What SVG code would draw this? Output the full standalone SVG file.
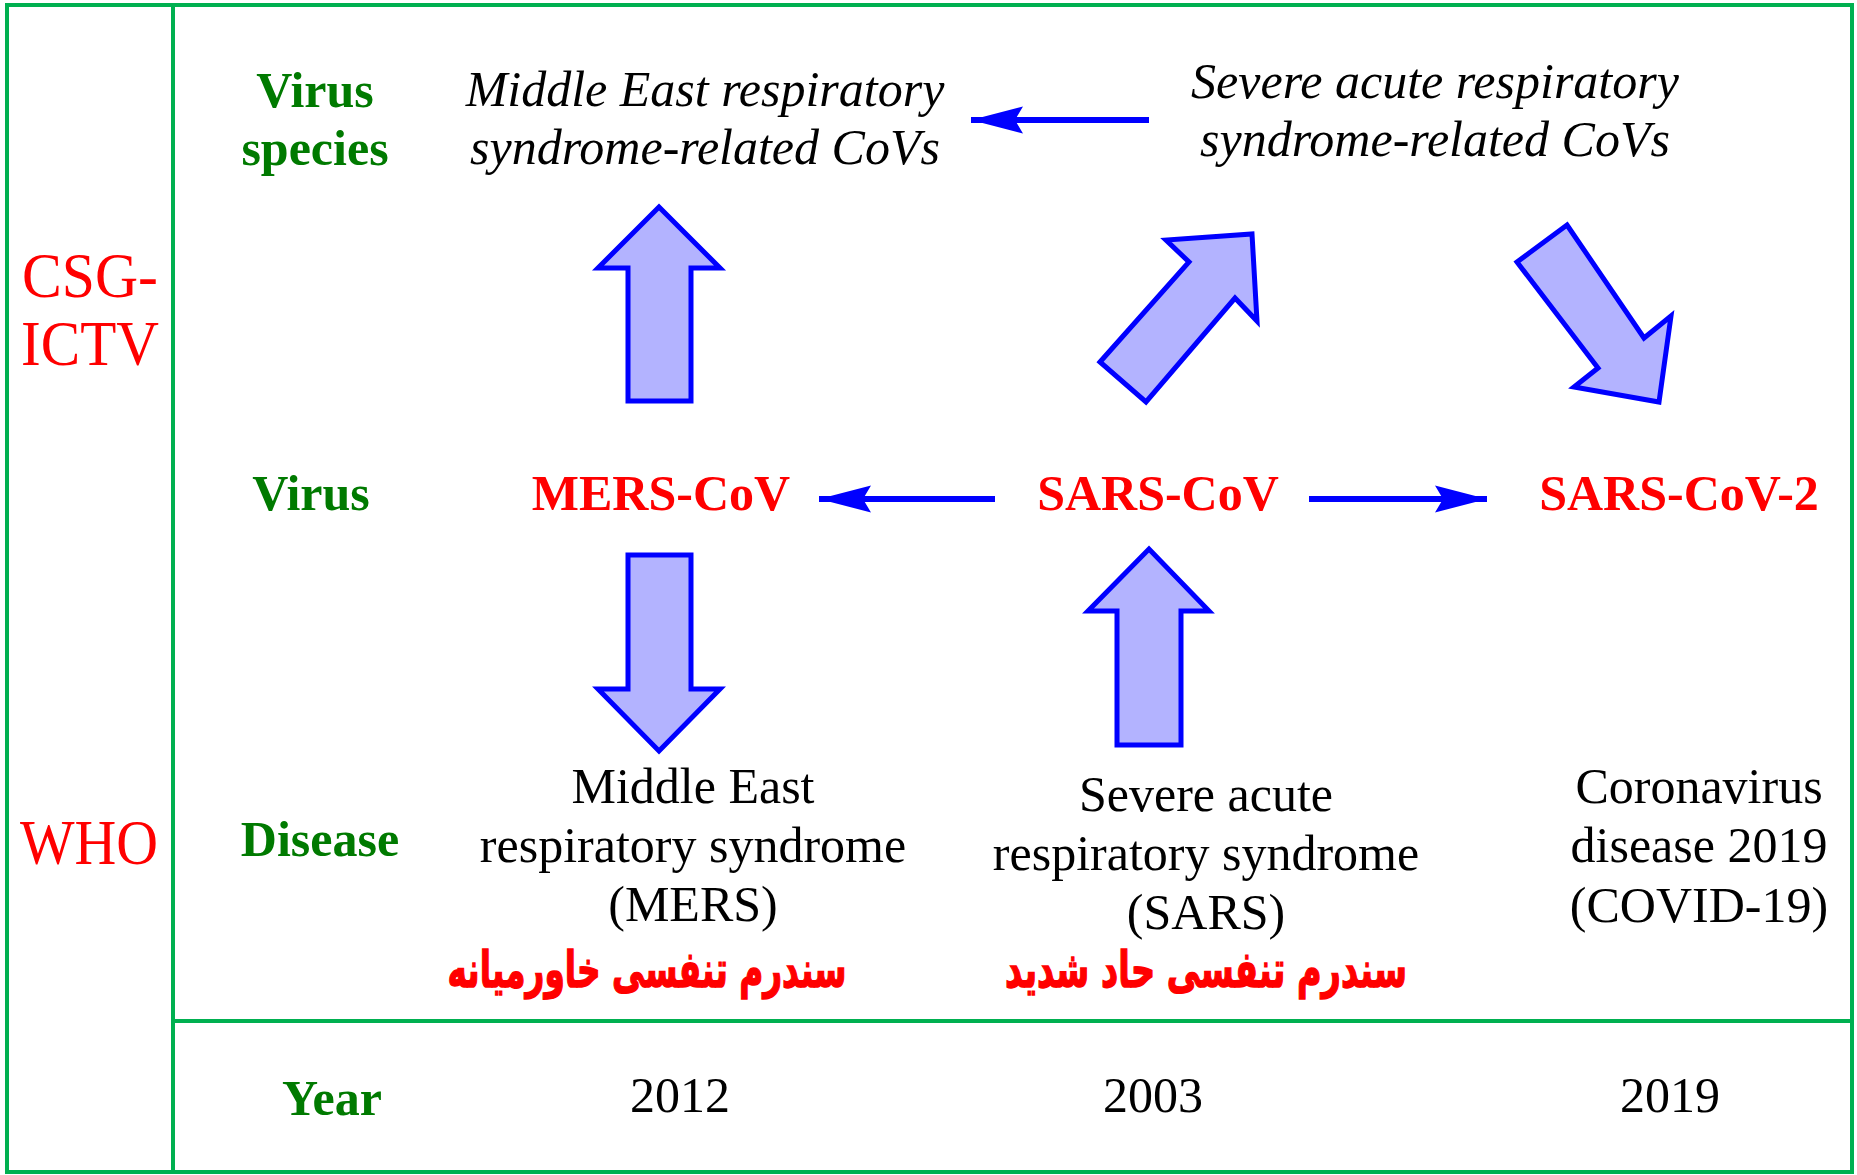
<svg xmlns="http://www.w3.org/2000/svg" width="1857" height="1175" viewBox="0 0 1857 1175">
  <style>
    text { font-family: "Liberation Serif", "Times New Roman", serif; text-anchor: middle; }
    .lab { fill: #007a00; font-weight: bold; font-size: 50px; }
    .org { fill: #ff0000; font-size: 64px; }
    .vir { fill: #ff0000; font-weight: bold; font-size: 50px; }
    .sp { fill: #000; font-style: italic; font-size: 50px; }
    .dis { fill: #000; font-size: 50px; }
    .fa { fill: #ff0000; stroke: #ff0000; stroke-width: 1.5; font-family: "DejaVu Sans", "Noto Sans", sans-serif; font-weight: bold; font-size: 50px; }
    .grid { stroke: #00b050; stroke-width: 4; fill: none; }
    .block { fill: #b3b3ff; stroke: #0000ff; stroke-width: 5; stroke-linejoin: miter; }
    .line { stroke: #0000ff; stroke-width: 6; fill: none; }
  </style>
  <defs>
    <marker id="head" markerUnits="userSpaceOnUse" markerWidth="60" markerHeight="32" viewBox="-54 -16 60 32" refX="0" refY="0" orient="auto">
      <path d="M0,0 L-52,-13.5 L-44,0 L-52,13.5 Z" fill="#0000ff"/>
    </marker>
  </defs>

  <rect width="1857" height="1175" fill="#ffffff"/>

  <!-- table frame -->
  <g id="frame">
    <rect class="grid" x="7" y="5" width="1845" height="1167"/>
    <line class="grid" x1="173" y1="5" x2="173" y2="1172"/>
    <line class="grid" x1="173" y1="1021" x2="1852" y2="1021"/>
  </g>

  <!-- row and column headings -->
  <g id="org-csg">
    <text class="org" x="90" y="297" textLength="136" lengthAdjust="spacingAndGlyphs">CSG-</text>
    <text class="org" x="90" y="365" textLength="138" lengthAdjust="spacingAndGlyphs">ICTV</text>
  </g>
  <g id="org-who">
    <text class="org" x="89" y="864" textLength="138" lengthAdjust="spacingAndGlyphs">WHO</text>
  </g>
  <g id="label-species">
    <text class="lab" x="315" y="107">Virus</text>
    <text class="lab" x="315" y="165">species</text>
  </g>
  <g id="label-virus"><text class="lab" x="311" y="510">Virus</text></g>
  <g id="label-disease"><text class="lab" x="320" y="856">Disease</text></g>
  <g id="label-year"><text class="lab" x="332" y="1115">Year</text></g>

  <!-- species -->
  <g id="species-mers">
    <text class="sp" x="705" y="106">Middle East respiratory</text>
    <text class="sp" x="705" y="164">syndrome-related CoVs</text>
  </g>
  <g id="species-sars">
    <text class="sp" x="1435" y="98">Severe acute respiratory</text>
    <text class="sp" x="1435" y="156">syndrome-related CoVs</text>
  </g>

  <!-- viruses -->
  <g id="virus-mers"><text class="vir" x="661" y="510">MERS-CoV</text></g>
  <g id="virus-sars"><text class="vir" x="1158" y="510">SARS-CoV</text></g>
  <g id="virus-sars2"><text class="vir" x="1679" y="510">SARS-CoV-2</text></g>

  <!-- diseases -->
  <g id="disease-mers">
    <text class="dis" x="693" y="803">Middle East</text>
    <text class="dis" x="693" y="862">respiratory syndrome</text>
    <text class="dis" x="693" y="921">(MERS)</text>
    <text class="fa" x="647" y="987" direction="rtl" textLength="399" lengthAdjust="spacingAndGlyphs">سندرم تنفسی خاورمیانه</text>
  </g>
  <g id="disease-sars">
    <text class="dis" x="1206" y="811">Severe acute</text>
    <text class="dis" x="1206" y="870">respiratory syndrome</text>
    <text class="dis" x="1206" y="929">(SARS)</text>
    <text class="fa" x="1206" y="987" direction="rtl" textLength="402" lengthAdjust="spacingAndGlyphs">سندرم تنفسی حاد شدید</text>
  </g>
  <g id="disease-covid">
    <text class="dis" x="1699" y="803">Coronavirus</text>
    <text class="dis" x="1699" y="862">disease 2019</text>
    <text class="dis" x="1699" y="922">(COVID-19)</text>
  </g>

  <!-- years -->
  <g id="year-2012"><text class="dis" x="680" y="1112">2012</text></g>
  <g id="year-2003"><text class="dis" x="1153" y="1112">2003</text></g>
  <g id="year-2019"><text class="dis" x="1670" y="1112">2019</text></g>

  <!-- connectors -->
  <g id="connectors">
    <polygon class="block" points="628,401 628,268 598,268 659,207 720,268 691,268 691,401"/>
    <polygon class="block" points="628,555 691,555 691,689 720,689 659,751 598,689 628,689"/>
    <polygon class="block" points="1117,745 1117,611 1088,611 1149,549 1209,611 1181,611 1181,745"/>
    <polygon class="block" points="1100,362 1189,262 1166,240 1252,234 1257,321 1235,298 1146,402"/>
    <polygon class="block" points="1567,225 1644,338 1671,316 1659,402 1574,387 1598,368 1517,262"/>
    <line class="line" x1="1149" y1="120" x2="971" y2="120" marker-end="url(#head)"/>
    <line class="line" x1="995" y1="499" x2="819" y2="499" marker-end="url(#head)"/>
    <line class="line" x1="1309" y1="499" x2="1487" y2="499" marker-end="url(#head)"/>
  </g>
</svg>
